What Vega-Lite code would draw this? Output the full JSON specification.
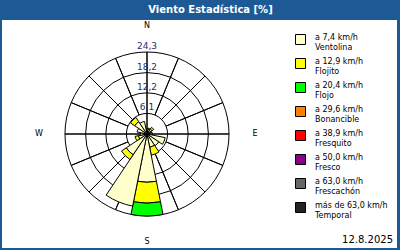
{
  "$schema": "https://vega.github.io/schema/vega-lite/v6.json",
  "background": "#1d5a95",
  "padding": {"left": 2, "right": 3, "top": 5, "bottom": 2},
  "title": {"text": "Viento Estadística [%]", "color": "white", "font": "DejaVu Sans", "fontSize": 10, "fontWeight": "bold", "anchor": "middle", "dx": 11, "offset": 5},
  "config": {"view": {"fill": "white", "stroke": null}, "concat": {"spacing": 0}, "font": "DejaVu Sans"},
  "spacing": 0,
  "resolve": {"scale": {"color": "independent"}, "legend": {"color": "independent"}},
  "hconcat": [
    {
      "width": 290,
      "height": 228,
      "view": {"fill": "white", "stroke": null},
      "layer": [
        {
          "data": {"values": [{"ring": 6.1}, {"ring": 12.2}, {"ring": 18.2}, {"ring": 24.3}]},
          "mark": {"type": "arc", "filled": false, "stroke": "black", "strokeWidth": 1},
          "encoding": {
            "theta": {"datum": 0, "type": "quantitative", "scale": {"domain": [0, 360], "range": [0, 6.283185307179586]}},
            "theta2": {"datum": 360},
            "radius": {"field": "ring", "type": "quantitative", "stack": null, "scale": {"type": "linear", "domain": [0, 24.3], "range": [0, 82], "zero": true, "nice": false}}
          }
        },
        {
          "data": {"values": [{"a": 22.5}, {"a": 45}, {"a": 67.5}, {"a": 112.5}, {"a": 135}, {"a": 157.5}, {"a": 202.5}, {"a": 225}, {"a": 247.5}, {"a": 292.5}, {"a": 315}, {"a": 337.5}]},
          "mark": {"type": "arc", "filled": false, "stroke": "black", "strokeWidth": 1},
          "encoding": {
            "theta": {"field": "a", "type": "quantitative", "stack": null},
            "theta2": {"field": "a"},
            "radius": {"datum": 24.3, "type": "quantitative", "stack": null},
            "radius2": {"datum": 6.1}
          }
        },
        {
          "data": {"values": [{"a": 0}, {"a": 90}, {"a": 180}, {"a": 270}]},
          "mark": {"type": "arc", "filled": false, "stroke": "black", "strokeWidth": 1},
          "encoding": {
            "theta": {"field": "a", "type": "quantitative", "stack": null},
            "theta2": {"field": "a"},
            "radius": {"datum": 24.3, "type": "quantitative", "stack": null},
            "radius2": {"datum": 0}
          }
        },
        {
          "data": {"values": [
            {"d": 0, "c": "a 7,4 km/h|Ventolina", "v": 1.2},
            {"d": 0, "c": "a 12,9 km/h|Flojito", "v": 0.3},
            {"d": 22.5, "c": "a 7,4 km/h|Ventolina", "v": 1.4},
            {"d": 22.5, "c": "a 12,9 km/h|Flojito", "v": 0.4},
            {"d": 45, "c": "a 7,4 km/h|Ventolina", "v": 1.8},
            {"d": 45, "c": "a 12,9 km/h|Flojito", "v": 0.6},
            {"d": 67.5, "c": "a 7,4 km/h|Ventolina", "v": 1.2},
            {"d": 67.5, "c": "a 12,9 km/h|Flojito", "v": 0.3},
            {"d": 90, "c": "a 7,4 km/h|Ventolina", "v": 1.6},
            {"d": 112.5, "c": "a 7,4 km/h|Ventolina", "v": 5.5},
            {"d": 135, "c": "a 7,4 km/h|Ventolina", "v": 4.2},
            {"d": 157.5, "c": "a 7,4 km/h|Ventolina", "v": 4.0},
            {"d": 157.5, "c": "a 12,9 km/h|Flojito", "v": 2.4},
            {"d": 180, "c": "a 7,4 km/h|Ventolina", "v": 14.3},
            {"d": 180, "c": "a 12,9 km/h|Flojito", "v": 6.2},
            {"d": 180, "c": "a 20,4 km/h|Flojo", "v": 3.8},
            {"d": 202.5, "c": "a 7,4 km/h|Ventolina", "v": 21.8},
            {"d": 225, "c": "a 7,4 km/h|Ventolina", "v": 7.4},
            {"d": 225, "c": "a 12,9 km/h|Flojito", "v": 1.7},
            {"d": 247.5, "c": "a 7,4 km/h|Ventolina", "v": 2.6},
            {"d": 247.5, "c": "a 12,9 km/h|Flojito", "v": 1.0},
            {"d": 270, "c": "a 7,4 km/h|Ventolina", "v": 2.0},
            {"d": 292.5, "c": "a 7,4 km/h|Ventolina", "v": 3.0},
            {"d": 315, "c": "a 7,4 km/h|Ventolina", "v": 4.4},
            {"d": 315, "c": "a 12,9 km/h|Flojito", "v": 1.5},
            {"d": 337.5, "c": "a 7,4 km/h|Ventolina", "v": 3.8}
          ]},
          "transform": [
            {"stack": "v", "groupby": ["d"], "as": ["r0", "r1"]},
            {"calculate": "datum.d - 11.25", "as": "t0"},
            {"calculate": "datum.d + 11.25", "as": "t1"}
          ],
          "mark": {"type": "arc", "stroke": "black", "strokeWidth": 1},
          "encoding": {
            "theta": {"field": "t0", "type": "quantitative", "stack": null},
            "theta2": {"field": "t1"},
            "radius": {"field": "r1", "type": "quantitative", "stack": null},
            "radius2": {"field": "r0"},
            "color": {
              "field": "c", "type": "nominal", "legend": null,
              "scale": {
                "domain": ["a 7,4 km/h|Ventolina", "a 12,9 km/h|Flojito", "a 20,4 km/h|Flojo", "a 29,6 km/h|Bonancible", "a 38,9 km/h|Fresquito", "a 50,0 km/h|Fresco", "a 63,0 km/h|Frescachón", "más de 63,0 km/h|Temporal"],
                "range": ["#ffffcc", "#ffff00", "#00ff00", "#ff8000", "#ff0000", "#880088", "#666666", "#222222"]
              }
            }
          }
        },
        {
          "data": {"values": [{"ring": 6.1, "lab": "6,1"}, {"ring": 12.2, "lab": "12,2"}, {"ring": 18.2, "lab": "18,2"}, {"ring": 24.3, "lab": "24,3"}]},
          "mark": {"type": "text", "baseline": "bottom", "align": "center", "fontSize": 9, "color": "#1f2f66", "dy": -1},
          "encoding": {
            "theta": {"datum": 0, "type": "quantitative"},
            "radius": {"field": "ring", "type": "quantitative", "stack": null},
            "text": {"field": "lab"}
          }
        },
        {
          "data": {"values": [{"lab": "N", "deg": 0}, {"lab": "E", "deg": 90}, {"lab": "S", "deg": 180}, {"lab": "W", "deg": 270}]},
          "mark": {"type": "text", "baseline": "middle", "align": "center", "fontSize": 8, "color": "black"},
          "encoding": {
            "theta": {"field": "deg", "type": "quantitative", "stack": null},
            "radius": {"datum": 32, "type": "quantitative", "stack": null},
            "text": {"field": "lab"}
          }
        }
      ]
    },
    {
      "width": 105,
      "height": 228,
      "view": {"fill": "white", "stroke": null},
      "title": {"text": "12.8.2025", "orient": "bottom", "anchor": "end", "offset": -13, "dx": -4, "font": "DejaVu Sans", "fontSize": 10, "fontWeight": "normal", "color": "black"},
      "data": {"values": [
        {"c": "a 7,4 km/h|Ventolina"}, {"c": "a 12,9 km/h|Flojito"}, {"c": "a 20,4 km/h|Flojo"}, {"c": "a 29,6 km/h|Bonancible"},
        {"c": "a 38,9 km/h|Fresquito"}, {"c": "a 50,0 km/h|Fresco"}, {"c": "a 63,0 km/h|Frescachón"}, {"c": "más de 63,0 km/h|Temporal"}
      ]},
      "mark": {"type": "square", "opacity": 0},
      "encoding": {
        "color": {
          "field": "c", "type": "nominal",
          "scale": {
            "domain": ["a 7,4 km/h|Ventolina", "a 12,9 km/h|Flojito", "a 20,4 km/h|Flojo", "a 29,6 km/h|Bonancible", "a 38,9 km/h|Fresquito", "a 50,0 km/h|Fresco", "a 63,0 km/h|Frescachón", "más de 63,0 km/h|Temporal"],
            "range": ["#ffffcc", "#ffff00", "#00ff00", "#ff8000", "#ff0000", "#880088", "#666666", "#222222"]
          },
          "legend": {
            "orient": "none", "legendX": 3, "legendY": 14, "title": null, "padding": 0, "offset": 0,
            "symbolType": "square", "symbolSize": 100, "symbolStrokeColor": "black", "symbolStrokeWidth": 1, "symbolOpacity": 1,
            "labelFont": "DejaVu Sans", "labelFontSize": 8, "labelColor": "black", "labelBaseline": "alphabetic", "labelOffset": 9,
            "rowPadding": 4, "labelLimit": 200,
            "labelExpr": "split(datum.label, '|')"
          }
        }
      }
    }
  ]
}
